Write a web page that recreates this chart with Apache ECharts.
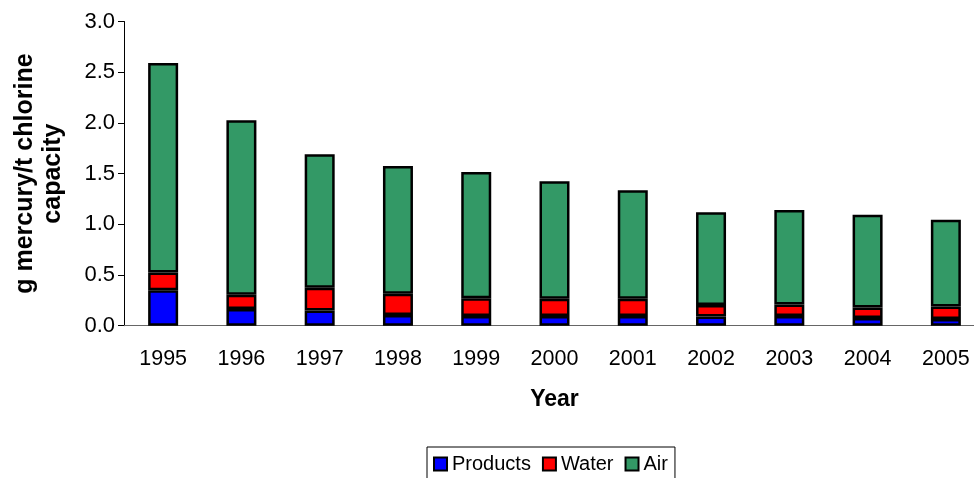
<!DOCTYPE html>
<html>
<head>
<meta charset="utf-8">
<script src="https://cdn.jsdelivr.net/npm/echarts@6/dist/echarts.min.js"></script>
<style>
  html, body { margin: 0; padding: 0; background: #fff; }
  #chart { width: 974px; height: 478px; }
</style>
</head>
<body>
<div id="chart"></div>
<script>
const years = ['1995', '1996', '1997', '1998', '1999', '2000', '2001', '2002', '2003', '2004', '2005']
// stacked pieces (g mercury / t chlorine capacity)
const products = [0.35, 0.165, 0.15, 0.105, 0.095, 0.095, 0.095, 0.09, 0.095, 0.075, 0.065]
const water = [0.175, 0.14, 0.225, 0.21, 0.175, 0.17, 0.17, 0.115, 0.115, 0.105, 0.125]
const air = [2.065, 1.72, 1.315, 1.26, 1.245, 1.16, 1.07, 0.915, 0.93, 0.915, 0.855]

const FONT = '"Liberation Sans", Arial, sans-serif'

const chart = echarts.init(document.getElementById('chart'), null, { renderer: 'canvas' })

const barStyle = (color) => ({
  color,
  borderColor: '#000',
  borderWidth: 2.5,
})

chart.setOption({
  animation: false,
  backgroundColor: '#fff',
  textStyle: { fontFamily: FONT },
  grid: { left: 124, right: -11, top: 21.5, bottom: 152.3, containLabel: false, outerBoundsMode: 'none' },
  legend: {
    left: 427,
    top: 447,
    padding: [7, 7, 20, 6],
    icon: 'rect',
    itemWidth: 13,
    itemHeight: 13,
    itemGap: 11,
    borderColor: '#000',
    borderWidth: 1,
    backgroundColor: '#fff',
    textStyle: { fontFamily: FONT, fontSize: 20, color: '#000' },
    data: ['Products', 'Water', 'Air'],
  },
  xAxis: {
    type: 'category',
    data: years,
    name: 'Year',
    nameLocation: 'middle',
    nameGap: 62,
    nameTextStyle: { fontFamily: FONT, fontSize: 23, fontWeight: 'bold', color: '#000' },
    axisLine: { lineStyle: { color: '#666', width: 1 } },
    axisTick: { length: 6, lineStyle: { color: '#000' } },
    axisLabel: { margin: 22, fontFamily: FONT, fontSize: 21.5, color: '#000' },
  },
  yAxis: {
    type: 'value',
    min: 0,
    max: 3,
    interval: 0.5,
    name: 'g mercury/t chlorine\ncapacity',
    nameLocation: 'middle',
    nameRotate: 90,
    nameGap: 57,
    nameTextStyle: { fontFamily: FONT, fontSize: 25, fontWeight: 'bold', color: '#000', lineHeight: 28 },
    axisLine: { show: true, lineStyle: { color: '#000', width: 1 } },
    axisTick: { show: true, length: 6, lineStyle: { color: '#000' } },
    splitLine: { show: false },
    axisLabel: {
      margin: 9,
      fontFamily: FONT,
      fontSize: 22,
      color: '#000',
      formatter: (v) => v.toFixed(1),
    },
  },
  series: [
    { name: 'Products', type: 'bar', stack: 'hg', barWidth: 30, data: products, itemStyle: barStyle('#0000ff') },
    { name: 'Water', type: 'bar', stack: 'hg', barWidth: 30, data: water, itemStyle: barStyle('#ff0000') },
    { name: 'Air', type: 'bar', stack: 'hg', barWidth: 30, data: air, itemStyle: barStyle('#339966') },
  ],
})
</script>
</body>
</html>
